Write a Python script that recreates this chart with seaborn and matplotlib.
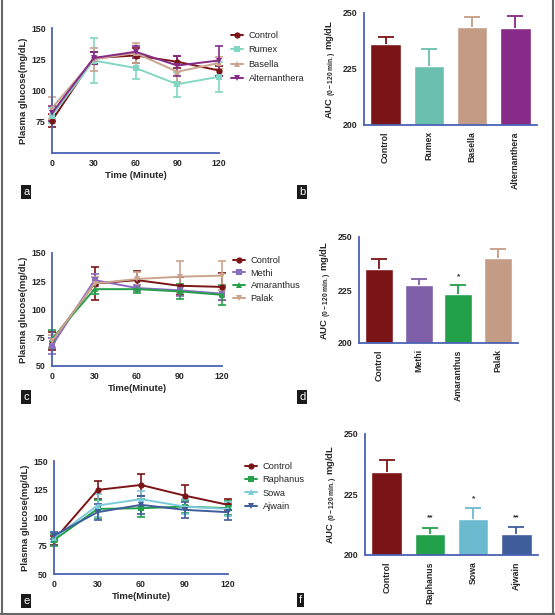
import numpy as np
import pandas as pd
import matplotlib.pyplot as plt
from matplotlib.lines import Line2D
import seaborn as sns

# данные: время и средние значения глюкозы (мг/дл) с ошибками
time = [0, 30, 60, 90, 120]

a_groups = ["Control", "Rumex", "Basella", "Alternanthera"]
a_mean = [[76, 126, 128, 123, 116],
          [80, 124, 118, 105, 111],
          [86, 125, 130, 115, 122],
          [82, 126, 131, 120, 124]]
a_err = [[5, 5, 6, 5, 4],
         [6, 18, 9, 10, 12],
         [9, 9, 8, 8, 5],
         [6, 5, 5, 8, 12]]
b_mean = [236.2, 226.3, 243.7, 243.3]
b_err = [3.1, 7.7, 4.4, 5.5]

c_groups = ["Control", "Methi", "Amaranthus", "Palak"]
c_mean = [[72, 123, 126, 121, 120],
          [68, 126, 119, 117, 114],
          [74, 118, 118, 116, 113],
          [72, 123, 127, 129, 130]]
c_err = [[8, 15, 8, 8, 12],
         [7, 5, 3, 5, 6],
         [8, 4, 3, 7, 9],
         [5, 6, 6, 14, 13]]
d_mean = [234.7, 227.2, 223.1, 240.3]
d_err = [4.7, 3.0, 4.2, 3.9]
d_sig = ["", "", "*", ""]

e_groups = ["Control", "Raphanus", "Sowa", "Ajwain"]
e_mean = [[80, 124.4, 128.8, 119.4, 111.2],
          [80, 107.6, 108.2, 109.7, 108.2],
          [82, 110.6, 116.2, 109.7, 107.6],
          [84, 104.7, 111.2, 106.8, 104.7]]
e_err = [[4, 8, 9.5, 9.5, 5],
         [5, 8, 8, 6, 6],
         [4, 10, 7, 7, 6],
         [3, 7, 8, 7, 7]]
f_mean = [234.4, 208.5, 214.9, 208.5]
f_err = [4.9, 2.8, 4.4, 3.1]
f_sig = ["", "**", "*", "**"]

# цвета
RED = "#7B1416"
SPINE = "#4B62B5"
a_line_col = [RED, "#84D6C4", "#CBA48E", "#862B88"]
a_bar_col = [RED, "#6BBFAE", "#C49C86", "#862B88"]
c_line_col = [RED, "#8A6CC0", "#25A04A", "#CBA48E"]
c_bar_col = [RED, "#7E5FA8", "#22A04A", "#C49C86"]
e_line_col = [RED, "#22A04A", "#7CCBDB", "#3F5C9B"]
e_bar_col = [RED, "#22A04A", "#6BBAD0", "#3F5C9B"]
markers = ["o", "s", "^", "v"]

sns.set_style("white")
plt.rcParams["font.family"] = ["Liberation Sans", "DejaVu Sans"]
plt.rcParams["mathtext.fontset"] = "custom"
plt.rcParams["mathtext.rm"] = "Liberation Sans:bold"

W, H = 555, 615
fig = plt.figure(figsize=(W / 100, H / 100), dpi=100)


def px_axes(left, top, right, bottom):
    return fig.add_axes([left / W, 1 - bottom / H, (right - left) / W, (bottom - top) / H])


def style_axes(ax):
    sns.despine(ax=ax)
    for s in ["left", "bottom"]:
        ax.spines[s].set_color(SPINE)
        ax.spines[s].set_linewidth(1.3)
    ax.tick_params(axis="both", length=3, width=1, color=SPINE, pad=1.5, labelsize=6.3)
    for lab in ax.get_xticklabels() + ax.get_yticklabels():
        lab.set_fontweight("bold")


def line_panel(box, groups, means, errs, cols, yticks, xlabel, leg_xy, leg_space):
    ax = px_axes(*box)
    rows = []
    for g, m in zip(groups, means):
        for t, v in zip(time, m):
            rows.append({"time": t, "glucose": v, "group": g})
    df = pd.DataFrame(rows)
    for g, m, e, c, mk in zip(groups, means, errs, cols, markers):
        eb = ax.errorbar(time, m, yerr=e, fmt="none", ecolor=c, elinewidth=1.2,
                         capsize=3, capthick=1.2)
        for art in eb.lines[1] + eb.lines[2]:
            art.set_clip_on(False)
    sns.lineplot(data=df, x="time", y="glucose", hue="group", style="group",
                 palette=dict(zip(groups, cols)), markers=dict(zip(groups, markers)),
                 dashes=False, linewidth=1.4, markersize=4.5, markeredgewidth=0,
                 legend=False, ax=ax, clip_on=False, zorder=3)
    ax.set_xlim(0, 120)
    ax.set_ylim(50, 150)
    ax.set_xticks(time)
    ax.set_yticks(yticks)
    ax.set_xlabel(xlabel, fontsize=6.8, fontweight="bold", labelpad=2)
    ax.set_ylabel("Plasma glucose(mg/dL)", fontsize=6.8, fontweight="bold", labelpad=2)
    style_axes(ax)
    handles = [Line2D([], [], color=c, marker=mk, lw=1.4, ms=4.5, mew=0)
               for c, mk in zip(cols, markers)]
    fig.legend(handles, groups, loc="upper left",
               bbox_to_anchor=(leg_xy[0] / W, 1 - leg_xy[1] / H),
               frameon=False, fontsize=6.7, handlelength=1.3, handletextpad=0.6,
               labelspacing=leg_space, borderpad=0, borderaxespad=0)
    return ax


def bar_panel(box, groups, means, errs, cols, sig):
    ax = px_axes(*box)
    df = pd.DataFrame({"group": groups, "auc": means})
    sns.barplot(data=df, x="group", y="auc", hue="group", palette=cols,
                width=0.7, errorbar=None, legend=False, ax=ax, saturation=1)
    for i, (m, e, c) in enumerate(zip(means, errs, cols)):
        eb = ax.errorbar(i, m, yerr=[[0], [e]], fmt="none", ecolor=c, elinewidth=1.3,
                         capsize=6, capthick=1.3)
        # только верхняя засечка
        eb.lines[1][0].set_visible(False)
        if sig[i]:
            ax.text(i, m + e + 2.5, sig[i], ha="center", va="bottom", fontsize=6,
                    fontweight="bold", color="#333333")
    ax.set_xlim(-0.5, 3.5)
    ax.set_ylim(200, 250)
    ax.set_yticks([200, 225, 250])
    ax.set_xlabel("")
    ax.set_ylabel(r"AUC $_{\mathregular{(0-120\ min.)}}$ mg/dL", fontsize=6.8,
                  fontweight="bold", labelpad=3)
    style_axes(ax)
    ax.tick_params(axis="x", rotation=90)
    return ax


line_panel((52, 28, 219, 153), a_groups, a_mean, a_err, a_line_col,
           [75, 100, 125, 150], "Time (Minute)", (231, 31), 0.59)
bar_panel((364, 13, 537, 125), a_groups, b_mean, b_err, a_bar_col, ["", "", "", ""])

line_panel((52, 253, 222, 366), c_groups, c_mean, c_err, c_line_col,
           [50, 75, 100, 125, 150], "Time(Minute)", (233, 256), 0.40)
bar_panel((359, 237, 518, 343), c_groups, d_mean, d_err, c_bar_col, d_sig)

line_panel((54, 461, 228, 574), e_groups, e_mean, e_err, e_line_col,
           [50, 75, 100, 125, 150], "Time(Minute)", (245, 462), 0.46)
bar_panel((365, 434, 538, 555), e_groups, f_mean, f_err, e_bar_col, f_sig)

# метки панелей
for lab, x, y in [("a", 23, 192), ("b", 299, 192), ("c", 23, 397),
                  ("d", 299, 397), ("e", 23, 601), ("f", 299, 600)]:
    fig.text(x / W, 1 - y / H, lab, color="white", fontsize=8, va="center", ha="left",
             bbox=dict(facecolor="#1a1a1a", edgecolor="none", boxstyle="square,pad=0.2"))

# рамка
for xs, ys in [([1.5 / W, 1.5 / W], [0, 1]), ([1 - 2 / W, 1 - 2 / W], [0, 1]),
               ([0, 1], [1.5 / H, 1.5 / H])]:
    fig.add_artist(Line2D(xs, ys, color="#666666", lw=1.5))

fig.savefig("out.png", dpi=100)
